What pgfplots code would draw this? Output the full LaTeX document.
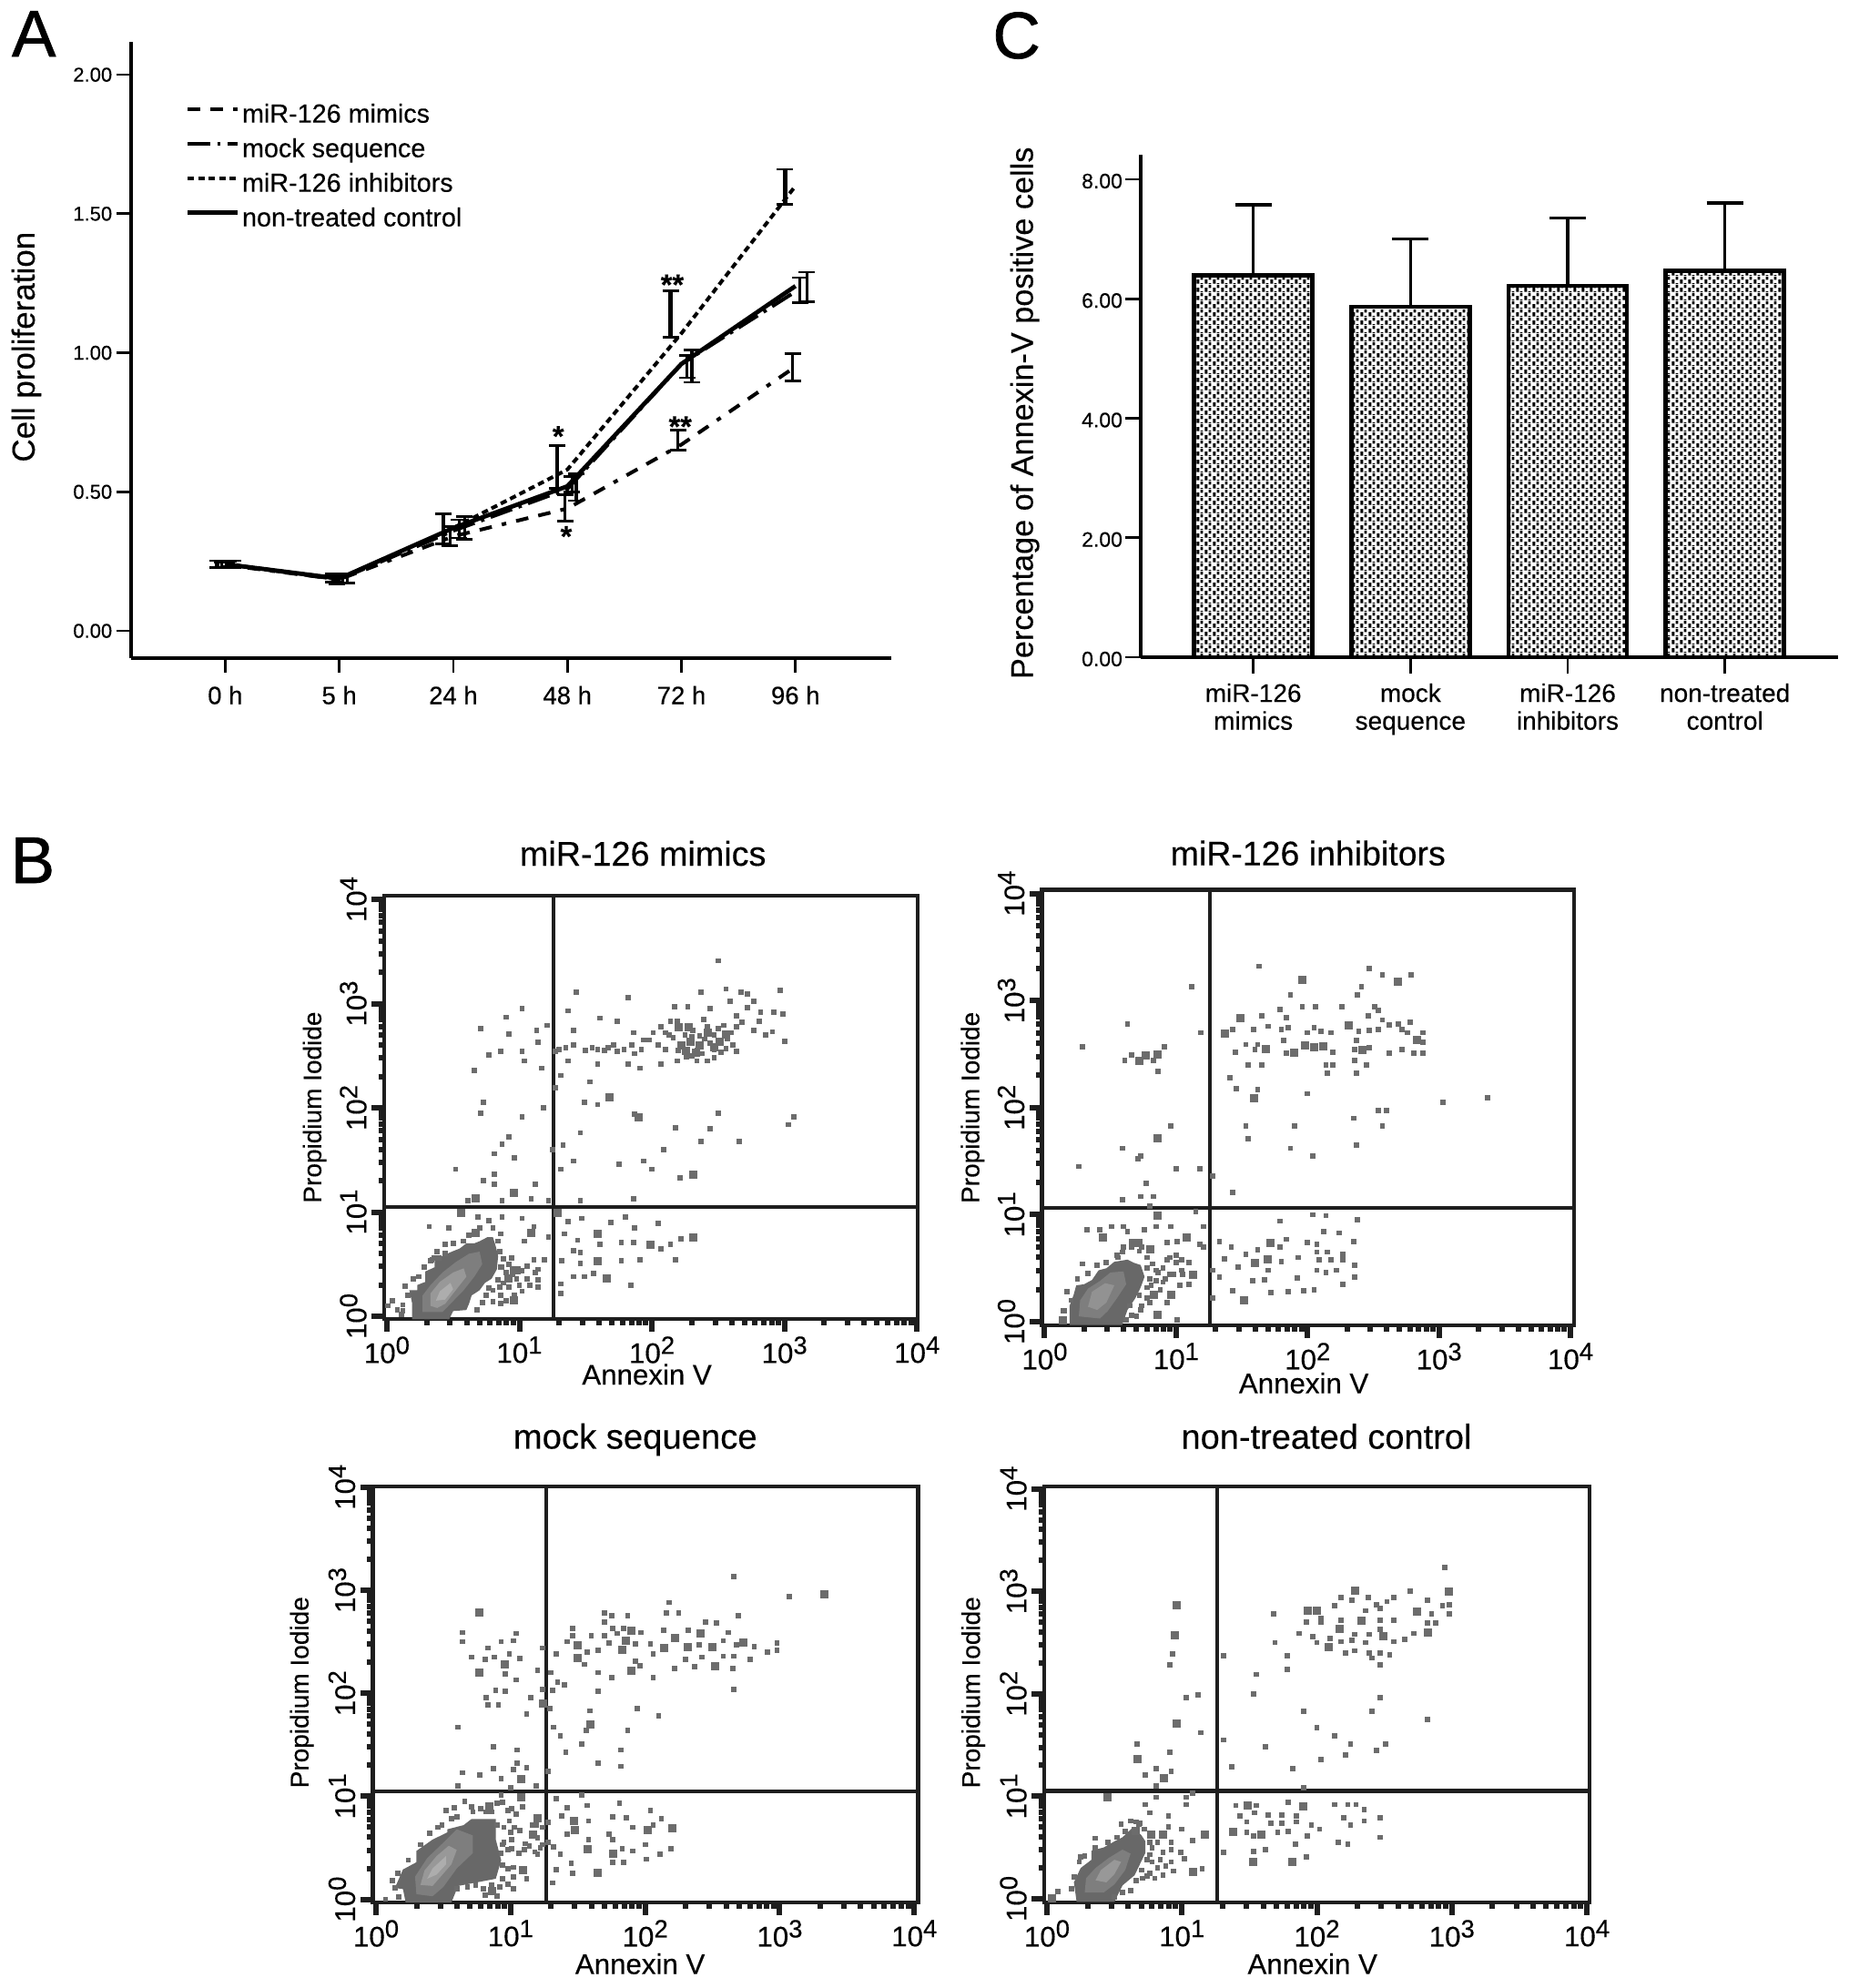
\documentclass[border=0pt]{standalone}
\usepackage{fontspec}
\setmainfont{Liberation Sans}[FakeBold=0.25]
\newfontfamily\hv{Liberation Sans}[FakeBold=1]
\usepackage{pgfplots}
\usepackage{pgfplotstable}
\usetikzlibrary{patterns}
\pgfplotsset{compat=1.18}

\definecolor{fr}{HTML}{1E1E1E}
\definecolor{dots}{HTML}{6C6C6C}
\definecolor{core}{HTML}{686868}
\definecolor{coreb}{HTML}{7E7E7E}
\definecolor{corec}{HTML}{989898}
\definecolor{cored}{HTML}{ADADAD}

\pgfdeclarepatternformonly{stip}{\pgfpointorigin}{\pgfqpoint{3.6pt}{3.6pt}}{\pgfqpoint{3.6pt}{3.6pt}}{
  \pgfpathrectangle{\pgfqpoint{0.2pt}{0.2pt}}{\pgfqpoint{1.25pt}{2pt}}
  \pgfpathrectangle{\pgfqpoint{2pt}{2pt}}{\pgfqpoint{1.25pt}{1.6pt}}
  \pgfpathrectangle{\pgfqpoint{2pt}{0pt}}{\pgfqpoint{1.25pt}{0.4pt}}
  \pgfusepath{fill}}

% 1 px of the figure = 0.4pt
\newcommand{\tp}[1]{10\raisebox{4pt}{\fontsize{11}{11}\selectfont #1}}
\newcommand{\fs}[1]{\fontsize{#1}{#1}\selectfont}

\pgfplotsset{
  facs/.style={
    scale only axis, anchor=south west,
    axis line style={line width=1.8pt, color=fr},
    tick align=outside, xtick pos=bottom, ytick pos=left,
    xtick={1,10,100,1000,10000}, ytick={1,10,100,1000,10000},
    minor xtick={2,3,...,9,20,30,...,90,200,300,...,900,2000,3000,...,9000},
    minor ytick={2,3,...,9,20,30,...,90,200,300,...,900,2000,3000,...,9000},
    xticklabels={\tp0,\tp1,\tp2,\tp3,\tp4},
    yticklabels={\tp0,\tp1,\tp2,\tp3,\tp4},
    major tick length=5.5pt, minor tick length=2.6pt,
    major tick style={line width=2.4pt, color=fr},
    minor tick style={line width=2.4pt, color=fr},
    xticklabel style={font=\fs{12.5}, inner sep=1pt, yshift=-1pt},
    yticklabel style={font=\fs{12.5}, rotate=90, anchor=south, inner sep=2pt},
    xlabel={Annexin V}, ylabel={Propidium Iodide},
  },
  evS/.style={color=dots, only marks, mark=square*, mark size=0.95pt, mark options={solid, line width=0pt}},
  evB/.style={color=dots, only marks, mark=square*, mark size=1.6pt, mark options={solid, line width=0pt}},
  gate/.style={line width=1.7pt, color=fr},
  barerr/.style={draw=none, mark=none, forget plot,
    error bars/.cd, y dir=both, y explicit,
    error bar style={draw=black, solid, line width=#1},
    error mark options={rotate=90, mark size=3.6pt, line width=1.1pt, draw=black, solid}},
}
\pgfplotsset{/pgfplots/table/dec/.style={x expr={10^\thisrowno{0}}, y expr={10^\thisrowno{1}}, row sep=\\}}

% flow cytometry events, exponents of (Annexin V, Propidium Iodide)
\pgfplotstableread[row sep=\\]{
2.5 3.41\\2.56 3.14\\2.67 3.11\\2.72 3.09\\2.97 3.13\\2.37 3.11\\1.82 3.06\\1.43 3.11\\1.02 2.95\\0.9 2.87\\0.71 2.76\\0.92 2.71\\1.13 2.74\\1.14 2.63\\1.21 2.79\\1.37 2.93\\1.61 2.86\\1.74 2.83\\2.17 2.97\\2.27 2.97\\2.44 2.95\\2.59 3.02\\2.77 3.02\\2.72 2.96\\2.64 2.88\\2.82 2.92\\2.81 2.83\\2.92 2.92\\2.99 2.9\\2.77 2.74\\2.86 2.7\\2.91 2.73\\3.0 2.64\\
0.77 2.51\\0.86 2.54\\1.02 2.54\\1.04 2.45\\0.66 2.36\\1.17 2.38\\1.27 2.54\\1.37 2.45\\1.41 2.6\\1.41 2.74\\1.59 2.56\\1.71 2.6\\1.79 2.56\\1.59 2.42\\1.82 2.42\\1.91 2.38\\1.86 2.72\\1.94 2.65\\1.92 2.56\\2.01 2.72\\2.07 2.78\\2.07 2.42\\2.14 2.83\\2.19 2.83\\
2.26 2.49\\2.34 2.45\\2.42 2.45\\2.42 2.78\\2.54 2.79\\2.61 2.6\\2.64 2.54\\2.47 2.56\\2.52 2.53\\2.16 2.67\\2.19 2.45\\2.31 2.74\\2.39 2.85\\2.47 2.7\\
2.1 2.72\\2.13 2.7\\2.25 2.7\\2.3 2.68\\2.36 2.69\\2.4 2.66\\2.44 2.62\\2.5 2.76\\2.57 2.66\\2.6 2.72\\2.64 2.78\\2.68 2.82\\2.56 2.57\\2.34 2.55\\2.2 2.55\\2.3 2.5\\2.38 2.52\\2.47 2.48\\2.1 2.56\\2.05 2.6\\1.98 2.65\\1.5 2.55\\1.55 2.58\\1.64 2.55\\1.67 2.58\\1.74 2.54\\1.85 2.6\\1.87 2.52\\1.3 2.56\\1.35 2.58\\
1.27 2.19\\1.31 2.31\\1.53 2.25\\1.49 2.05\\1.59 2.03\\1.18 2.0\\0.73 2.05\\0.71 1.95\\1.02 1.91\\1.87 1.94\\2.5 1.95\\3.07 1.91\\3.03 1.84\\2.18 1.81\\2.44 1.8\\1.46 1.76\\0.92 1.72\\0.87 1.65\\1.25 1.6\\1.33 1.64\\0.81 1.56\\0.96 1.52\\2.37 1.68\\2.66 1.68\\2.09 1.6\\1.41 1.49\\1.75 1.46\\1.94 1.49\\2.0 1.41\\1.31 1.41\\0.81 1.36\\0.52 1.41\\2.21 1.33\\0.73 1.3\\0.81 1.27\\1.12 1.27\\0.87 1.11\\0.61 1.11\\1.09 1.13\\1.46 1.11\\1.86 1.13\\1.22 1.11\\
1.37 0.91\\1.47 0.94\\1.69 0.9\\1.8 0.95\\2.05 0.89\\1.87 0.85\\1.34 0.79\\1.44 0.73\\1.61 0.69\\1.77 0.71\\1.86 0.71\\2.07 0.65\\2.14 0.69\\2.22 0.74\\1.46 0.61\\1.41 0.63\\1.32 0.53\\1.46 0.51\\1.77 0.53\\1.91 0.54\\2.18 0.54\\1.41 0.38\\1.49 0.38\\1.31 0.31\\1.31 0.22\\1.84 0.3\\1.56 0.41\\
0.69 0.95\\0.77 0.92\\0.87 0.95\\0.32 0.86\\0.47 0.85\\1.02 0.94\\1.11 0.86\\0.86 0.79\\0.44 0.69\\1.04 0.72\\1.22 0.76\\0.94 0.56\\1.11 0.54\\1.19 0.54\\1.14 0.45\\0.87 0.47\\1.06 0.36\\1.14 0.28\\1.02 0.24\\0.86 0.2\\1.14 0.35\\0.84 0.35\\0.77 0.27\\0.04 0.15\\0.01 0.1\\0.12 0.11\\0.11 0.02\\0.14 0.29\\0.34 0.54\\0.39 0.56\\
0.85 0.62\\0.88 0.55\\0.86 0.47\\0.92 0.5\\0.9 0.42\\0.95 0.4\\0.88 0.32\\0.92 0.28\\0.98 0.36\\1.02 0.44\\1.06 0.48\\0.85 0.28\\0.8 0.25\\0.75 0.2\\0.8 0.14\\0.86 0.12\\0.72 0.13\\0.68 0.06\\0.9 0.15\\0.96 0.2\\1.0 0.3\\1.08 0.3\\1.12 0.42\\0.84 0.72\\0.8 0.85\\0.7 0.85\\0.62 0.78\\0.58 0.72\\0.5 0.7\\0.44 0.6\\0.38 0.62\\0.33 0.53\\0.36 0.56\\0.28 0.47\\0.24 0.38\\0.2 0.36\\0.16 0.2\\0.12 0.05\\0.08 0.06\\
}\mimicsS
\pgfplotstableread[row sep=\\]{
2.22 2.6\\2.29 2.63\\2.36 2.6\\2.51 2.63\\2.47 2.58\\2.26 2.55\\2.33 2.53\\2.56 2.7\\2.42 2.72\\2.2 2.77\\2.28 2.77\\
1.68 2.1\\1.9 1.91\\2.31 1.36\\0.96 1.18\\0.67 1.13\\
1.29 0.99\\1.59 0.79\\1.99 0.69\\2.31 0.76\\1.59 0.53\\1.66 0.36\\
0.56 0.99\\0.67 0.8\\1.09 0.8\\0.96 0.44\\0.96 0.15\\0.98 0.44\\0.92 0.36\\
}\mimicsB
\pgfplotstableread[row sep=\\]{
1.63 3.32\\2.47 3.3\\2.57 3.24\\2.79 3.24\\1.12 3.13\\2.41 3.13\\2.38 3.05\\1.87 3.05\\1.96 2.94\\2.06 2.94\\2.26 2.94\\1.79 2.92\\2.51 2.94\\2.54 2.91\\1.65 2.86\\2.46 2.86\\1.84 2.84\\0.63 2.78\\0.29 2.57\\1.19 2.7\\1.43 2.73\\1.59 2.73\\1.7 2.76\\1.85 2.75\\1.8 2.73\\2.0 2.7\\2.05 2.75\\2.1 2.71\\2.18 2.7\\2.39 2.71\\2.47 2.72\\2.54 2.73\\2.57 2.82\\2.62 2.77\\2.69 2.78\\2.78 2.8\\2.72 2.73\\2.88 2.7\\2.88 2.61\\2.81 2.51\\2.88 2.51\\2.72 2.54\\2.62 2.51\\2.76 2.7\\2.36 2.54\\2.47 2.56\\2.36 2.44\\2.45 2.4\\2.37 2.32\\2.37 2.63\\2.15 2.32\\2.14 2.4\\2.19 2.4\\2.19 2.52\\1.84 2.51\\1.82 2.63\\1.6 2.54\\1.53 2.59\\1.45 2.52\\1.62 2.59\\1.55 2.4\\1.65 2.4\\1.41 2.28\\1.46 2.18\\1.62 2.17\\2.0 2.13\\3.03 2.05\\3.37 2.09\\2.54 1.97\\2.6 1.97\\2.35 1.9\\2.57 1.83\\1.53 1.83\\1.9 1.83\\1.55 1.71\\2.37 1.65\\1.87 1.62\\2.04 1.55\\0.96 1.83\\0.59 1.62\\0.73 1.55\\0.71 1.52\\0.26 1.45\\1.0 1.43\\1.18 1.43\\1.28 1.36\\1.43 1.21\\0.77 1.29\\0.73 1.17\\0.83 1.17\\0.59 1.14\\0.8 1.08\\
0.61 2.44\\0.66 2.49\\0.83 2.44\\0.91 2.57\\0.86 2.34\\
2.04 1.0\\2.14 0.99\\2.38 0.95\\1.79 0.94\\2.12 0.84\\2.24 0.83\\2.35 0.75\\1.84 0.77\\1.79 0.7\\1.33 0.75\\1.42 0.7\\2.0 0.74\\2.07 0.72\\1.53 0.63\\1.62 0.67\\1.8 0.56\\1.93 0.6\\1.37 0.59\\1.47 0.51\\1.7 0.48\\2.15 0.65\\2.07 0.65\\2.09 0.58\\2.18 0.58\\2.27 0.63\\2.27 0.58\\2.36 0.53\\2.36 0.42\\2.07 0.48\\2.14 0.46\\2.22 0.48\\1.28 0.48\\1.33 0.42\\1.58 0.38\\1.67 0.39\\1.92 0.41\\2.27 0.35\\1.43 0.29\\1.72 0.27\\1.85 0.28\\1.97 0.29\\2.05 0.3\\1.28 0.22\\
1.15 1.03\\0.32 0.86\\0.42 0.86\\0.51 0.89\\0.6 0.89\\0.63 0.84\\0.76 0.86\\0.85 0.89\\0.96 0.89\\1.21 0.89\\1.01 0.75\\0.93 0.74\\1.18 0.72\\1.21 0.7\\0.66 0.7\\0.59 0.65\\0.56 0.6\\0.29 0.54\\0.93 0.58\\1.0 0.55\\1.1 0.55\\1.05 0.44\\0.95 0.44\\0.9 0.37\\1.03 0.34\\1.1 0.35\\0.93 0.18\\1.01 0.02\\0.73 0.11\\0.8 0.18\\0.85 0.48\\0.81 0.34\\0.14 0.1\\
0.2 0.2\\0.17 0.28\\0.15 0.1\\0.25 0.4\\0.33 0.45\\0.4 0.53\\0.47 0.55\\0.55 0.62\\0.6 0.7\\0.66 0.75\\0.72 0.66\\0.78 0.6\\0.74 0.7\\0.78 0.5\\0.82 0.54\\0.86 0.46\\0.9 0.5\\0.8 0.4\\0.85 0.38\\0.78 0.32\\0.72 0.25\\0.78 0.22\\0.65 0.15\\0.66 0.06\\0.7 0.05\\0.74 0.15\\0.88 0.3\\0.92 0.4\\0.98 0.44\\1.04 0.48\\0.95 0.6\\1.0 0.62\\1.04 0.58\\0.62 0.02\\
}\inhS
\pgfplotstableread[row sep=\\]{
2.69 3.18\\1.96 3.19\\1.49 2.84\\1.37 2.69\\2.31 2.77\\2.83 2.63\\2.42 2.54\\2.12 2.57\\2.05 2.56\\1.98 2.58\\1.9 2.51\\1.68 2.55\\1.59 2.09\\0.86 1.71\\
0.72 2.44\\0.77 2.49\\0.86 2.5\\
1.72 0.74\\1.7 0.58\\1.6 0.55\\1.52 0.2\\
0.86 0.99\\0.44 0.79\\1.08 0.79\\0.71 0.74\\0.8 0.68\\1.13 0.44\\0.96 0.25\\0.83 0.25\\0.86 0.06\\0.14 0.01\\
}\inhB
\pgfplotstableread[row sep=\\]{
2.66 3.13\\3.07 2.94\\2.18 2.88\\2.16 2.78\\2.25 2.78\\2.69 2.75\\1.7 2.78\\1.75 2.75\\1.87 2.75\\1.7 2.69\\1.46 2.63\\1.46 2.56\\1.76 2.63\\1.84 2.63\\1.6 2.56\\1.7 2.56\\1.79 2.58\\1.97 2.59\\1.93 2.48\\2.04 2.48\\0.64 2.59\\0.64 2.5\\1.04 2.58\\1.02 2.51\\0.93 2.5\\0.83 2.44\\1.24 2.44\\1.34 2.38\\1.42 2.5\\1.57 2.4\\1.65 2.42\\1.73 2.49\\1.55 2.28\\1.93 2.31\\1.96 2.27\\2.06 2.38\\2.14 2.61\\2.32 2.61\\2.45 2.69\\2.53 2.68\\2.62 2.59\\2.4 2.47\\2.58 2.51\\2.68 2.47\\2.81 2.45\\2.91 2.4\\2.98 2.42\\2.98 2.49\\2.78 2.33\\2.66 2.36\\2.58 2.36\\2.37 2.26\\2.3 2.33\\2.22 2.24\\2.42 2.35\\2.65 2.24\\2.66 2.04\\
0.71 2.35\\0.81 2.33\\0.88 2.35\\1.07 2.34\\0.99 2.38\\0.96 2.19\\1.04 2.13\\1.2 2.22\\1.3 2.2\\1.35 2.11\\1.4 2.08\\1.31 2.03\\1.24 2.04\\1.65 2.2\\1.75 2.15\\1.65 2.02\\2.06 2.15\\0.89 2.03\\0.96 2.02\\0.82 1.96\\1.15 1.96\\0.83 1.89\\0.91 1.89\\1.29 1.85\\1.94 1.85\\1.59 1.83\\2.1 1.78\\1.12 1.8\\0.61 1.67\\1.32 1.67\\1.87 1.64\\1.56 1.64\\1.37 1.59\\1.53 1.51\\0.87 1.48\\1.05 1.45\\1.82 1.45\\1.41 1.43\\1.65 1.32\\1.82 1.29\\1.05 1.32\\1.12 1.28\\0.87 1.27\\1.02 1.26\\0.64 1.23\\0.77 1.21\\1.28 1.24\\0.93 1.17\\0.61 1.1\\1.19 1.1\\1.0 1.08\\
1.34 0.98\\1.53 1.01\\1.42 0.89\\1.57 0.91\\1.81 0.93\\2.04 0.86\\1.76 0.8\\1.86 0.79\\1.38 0.81\\1.58 0.76\\2.12 0.78\\2.06 0.72\\1.91 0.7\\1.42 0.63\\1.73 0.63\\1.58 0.58\\1.76 0.58\\2.0 0.53\\2.19 0.49\\2.11 0.44\\1.32 0.51\\1.37 0.44\\1.83 0.49\\1.91 0.47\\2.01 0.39\\1.45 0.35\\1.84 0.36\\1.76 0.36\\1.46 0.25\\1.34 0.29\\1.31 0.16\\
0.52 0.86\\0.58 0.89\\0.66 0.95\\0.71 0.9\\0.93 1.01\\0.94 0.94\\1.09 0.9\\1.01 0.88\\0.99 0.76\\1.16 0.72\\1.07 0.67\\1.01 0.58\\1.11 0.54\\1.24 0.53\\1.01 0.49\\0.94 0.53\\1.2 0.44\\1.02 0.31\\1.12 0.2\\0.94 0.2\\1.02 0.1\\0.81 0.04\\0.49 0.72\\0.14 0.11\\0.07 0.0\\1.19 0.72\\1.02 0.22\\
0.9 0.72\\0.95 0.7\\0.95 0.55\\1.0 0.65\\1.03 0.7\\0.93 0.45\\0.98 0.48\\1.06 0.45\\1.1 0.48\\1.14 0.52\\1.2 0.6\\1.24 0.7\\1.28 0.75\\1.28 0.55\\1.22 0.5\\1.18 0.46\\0.94 0.33\\0.98 0.3\\0.92 0.12\\0.98 0.15\\0.6 0.1\\0.68 0.12\\0.74 0.14\\0.8 0.1\\0.9 0.03\\0.86 0.14\\0.56 0.78\\0.6 0.8\\0.72 0.85\\0.78 0.88\\0.82 0.85\\0.86 0.85\\0.9 0.93\\0.98 0.86\\1.04 0.83\\0.46 0.7\\0.4 0.64\\0.33 0.53\\0.24 0.38\\0.16 0.25\\0.12 0.18\\0.17 0.02\\
}\mockS
\pgfplotstableread[row sep=\\]{
3.33 2.96\\0.77 2.78\\1.9 2.61\\1.86 2.51\\1.5 2.47\\1.83 2.42\\1.5 2.34\\1.9 2.22\\2.22 2.54\\2.14 2.44\\2.41 2.58\\2.5 2.45\\2.32 2.45\\2.73 2.49\\2.52 2.26\\
0.96 2.28\\0.77 2.2\\1.24 1.9\\1.59 1.7\\1.08 1.17\\
1.47 0.76\\2.2 0.69\\2.02 0.67\\1.48 0.67\\1.57 0.49\\1.76 0.44\\1.65 0.26\\
0.84 0.9\\1.08 0.99\\1.2 0.79\\1.17 0.63\\1.09 0.28\\0.86 0.08\\
}\mockB
\pgfplotstableread[row sep=\\]{
2.95 3.23\\2.69 3.0\\2.18 2.94\\2.38 2.94\\2.57 2.94\\2.82 2.91\\2.26 2.91\\2.13 2.86\\2.44 2.87\\2.52 2.9\\2.98 2.87\\2.93 2.86\\2.36 2.81\\2.47 2.83\\2.85 2.78\\1.68 2.78\\2.98 2.78\\2.03 2.74\\2.18 2.72\\2.47 2.72\\2.57 2.72\\1.92 2.7\\2.03 2.7\\2.82 2.69\\2.88 2.69\\2.47 2.63\\1.87 2.59\\2.72 2.59\\1.97 2.56\\2.28 2.58\\2.39 2.58\\2.65 2.53\\2.1 2.54\\2.18 2.51\\2.26 2.52\\2.0 2.5\\1.69 2.5\\2.36 2.5\\2.57 2.51\\2.21 2.4\\2.28 2.42\\2.39 2.4\\2.47 2.4\\2.54 2.38\\2.41 2.35\\2.47 2.28\\1.78 2.37\\1.78 2.24\\1.31 2.37\\1.55 2.19\\2.47 1.96\\1.53 2.0\\2.41 1.83\\1.9 1.83\\2.82 1.75\\2.0 1.67\\2.13 1.59\\1.62 1.48\\2.25 1.51\\2.51 1.51\\2.44 1.45\\2.21 1.4\\2.03 1.36\\1.31 1.55\\1.37 1.29\\1.82 1.27\\1.9 1.08\\
0.93 2.39\\0.91 2.28\\1.12 1.99\\1.03 1.96\\1.14 1.62\\0.67 1.51\\0.91 1.43\\0.81 1.27\\0.92 1.24\\0.73 1.21\\0.81 1.1\\0.81 0.99\\1.08 1.03\\1.03 0.99\\1.03 0.92\\
1.4 0.91\\1.55 0.91\\1.79 0.94\\2.13 0.92\\2.23 0.92\\2.29 0.92\\2.35 0.87\\1.43 0.81\\1.54 0.84\\1.64 0.82\\1.74 0.82\\1.85 0.81\\1.66 0.74\\1.48 0.75\\1.74 0.74\\1.85 0.75\\2.2 0.79\\2.47 0.79\\2.35 0.76\\2.25 0.72\\1.96 0.72\\2.02 0.68\\1.48 0.65\\1.71 0.65\\1.79 0.66\\1.53 0.61\\1.93 0.61\\2.47 0.6\\2.16 0.55\\2.23 0.53\\1.84 0.53\\1.62 0.48\\1.53 0.46\\1.31 0.45\\1.92 0.41\\
0.55 0.73\\0.69 0.74\\0.36 0.59\\0.76 0.84\\0.73 0.92\\0.9 0.81\\0.9 0.7\\1.0 0.68\\1.08 0.57\\0.92 0.48\\0.99 0.45\\1.02 0.39\\0.92 0.36\\0.76 0.43\\0.84 0.38\\1.15 0.29\\0.94 0.27\\0.86 0.23\\0.76 0.25\\0.71 0.2\\0.08 0.07\\0.25 0.41\\0.66 0.75\\
0.2 0.21\\0.18 0.1\\0.24 0.36\\0.28 0.42\\0.36 0.5\\0.45 0.55\\0.52 0.6\\0.58 0.66\\0.62 0.76\\0.68 0.73\\0.72 0.68\\0.76 0.55\\0.78 0.5\\0.82 0.55\\0.74 0.38\\0.78 0.36\\0.82 0.3\\0.7 0.28\\0.74 0.22\\0.8 0.2\\0.66 0.18\\0.86 0.45\\0.88 0.32\\0.92 0.55\\0.62 0.08\\0.56 0.06\\0.5 0.02\\
}\ctrlS
\pgfplotstableread[row sep=\\]{
2.28 3.01\\2.98 3.0\\1.93 2.81\\2.0 2.81\\2.74 2.8\\2.33 2.71\\2.17 2.63\\2.82 2.6\\2.49 2.56\\2.09 2.46\\
0.96 2.86\\0.95 2.57\\0.96 1.71\\0.67 1.36\\0.87 1.18\\0.45 0.99\\
1.49 0.91\\1.9 0.9\\1.38 0.65\\1.59 0.63\\1.53 0.36\\1.82 0.36\\
0.77 0.63\\0.86 0.63\\1.17 0.63\\1.08 0.26\\0.04 0.0\\0.66 0.66\\
}\ctrlB

\begin{document}
\begin{tikzpicture}
\useasboundingbox (0pt,0pt) rectangle (812.4pt,-873.6pt);

% panel letters
\node[anchor=base west, inner sep=0pt, font=\hv\fs{29}] at (5pt,-24.8pt) {A};
\node[anchor=base west, inner sep=0pt, font=\hv\fs{29}] at (436pt,-25.6pt) {C};
\node[anchor=base west, inner sep=0pt, font=\hv\fs{29}] at (4.5pt,-388pt) {B};

% A: proliferation curves
\begin{axis}[
  at={(57.6pt,-289.2pt)}, anchor=south west, scale only axis,
  width=334pt, height=270.8pt,
  axis lines=left, axis line style={-, line width=1.3pt},
  xmin=-0.825, xmax=5.84, ymin=-0.098, ymax=2.118,
  tick align=outside, major tick length=6.5pt,
  tick style={line width=1.1pt, black},
  xtick={0,1,2,3,4,5}, xticklabels={0 h,5 h,24 h,48 h,72 h,96 h},
  ytick={0,0.5,1,1.5,2},
  yticklabel style={font=\fs{8.8}, xshift=1.7pt, /pgf/number format/fixed, /pgf/number format/fixed zerofill, /pgf/number format/precision=2, /pgf/number format/assume math mode=true},
  xticklabel style={font=\fs{11}, yshift=-2.2pt},
  ylabel={Cell proliferation},
  ylabel style={at={(axis description cs:-0.127,0.505)}, anchor=base, font=\fs{14}},
  legend style={at={(axis description cs:0.071,0.903)}, anchor=north west, draw=none, fill=none,
    font=\fs{11.5}, row sep=3.2pt, inner sep=0pt,
    nodes={inner ysep=0pt, inner xsep=1pt, text height=9pt, text depth=3pt}},
  legend cell align=left,
  legend image code/.code={\draw[#1] (0pt,3pt) -- (22pt,3pt);},
]
\addplot[black, line width=1.6pt, dash pattern=on 5.5pt off 4.5pt on 5.5pt off 4.5pt on 2pt off 4.5pt] coordinates {(0,0.237) (1,0.185) (2,0.34) (3,0.44) (4,0.67) (5,0.95)};
\addlegendentry{miR-126 mimics}
\addplot[black, line width=1.6pt, dash pattern=on 10pt off 3pt on 1.5pt off 3pt] coordinates {(0,0.24) (1,0.185) (2,0.36) (3,0.51) (4,0.96) (5,1.22)};
\addlegendentry{mock sequence}
\addplot[black, line width=1.6pt, dash pattern=on 2.8pt off 1.8pt] coordinates {(0,0.24) (1,0.188) (2,0.37) (3,0.58) (4,1.07) (5,1.6)};
\addlegendentry{miR-126 inhibitors}
\addplot[black, line width=1.9pt] coordinates {(0,0.24) (1,0.188) (2,0.37) (3,0.52) (4,0.96) (5,1.24)};
\addlegendentry{non-treated control}

\addplot[barerr=1.7pt] coordinates {(-0.07,0.24)+-(0,0.012) (0.95,0.19)+-(0,0.015) (1.91,0.367)+-(0,0.053) (2.91,0.59)+-(0,0.077) (3.905,1.14)+-(0,0.083) (4.91,1.597)+-(0,0.063)};
\addplot[barerr=1.1pt] coordinates {(-0.03,0.237)+-(0,0.01) (0.98,0.185)+-(0,0.015) (1.97,0.34)+-(0,0.034) (2.98,0.442)+-(0,0.048) (3.97,0.686)+-(0,0.037) (4.975,0.947)+-(0,0.049)};
\addplot[barerr=1.1pt] coordinates {(0.03,0.24)+-(0,0.01) (1.03,0.185)+-(0,0.012) (2.05,0.367)+-(0,0.033) (3.04,0.528)+-(0,0.028) (4.05,0.95)+-(0,0.04) (5.04,1.225)+-(0,0.045)};
\addplot[barerr=1.4pt] coordinates {(0.07,0.24)+-(0,0.012) (1.07,0.188)+-(0,0.017) (2.1,0.37)+-(0,0.04) (3.08,0.517)+-(0,0.049) (4.09,0.952)+-(0,0.058) (5.1,1.237)+-(0,0.053)};

\node[font=\bfseries\fs{13}] at (axis cs:2.92,0.70) {*};
\node[font=\bfseries\fs{13}] at (axis cs:2.99,0.34) {*};
\node[font=\bfseries\fs{13}] at (axis cs:3.92,1.245) {**};
\node[font=\bfseries\fs{13}] at (axis cs:3.99,0.735) {**};
\end{axis}

% C: Annexin-V positive cells
\begin{axis}[
  at={(501.2pt,-288.8pt)}, anchor=south west, scale only axis,
  width=306.4pt, height=220.8pt,
  axis lines=left, axis line style={-, line width=1.4pt},
  xmin=-0.716, xmax=3.72, ymin=0, ymax=8.41,
  tick align=outside, major tick length=7pt,
  tick style={line width=1.1pt, black},
  xtick={0,1,2,3},
  xticklabels={{miR-126\\mimics},{mock\\sequence},{miR-126\\inhibitors},{non-treated\\control}},
  xticklabel style={align=center, font=\fontsize{11.2}{12.2}\selectfont, yshift=-1pt},
  ytick={0,2,4,6,8},
  yticklabel style={font=\fs{9.2}, xshift=2.5pt, yshift=-0.8pt, /pgf/number format/fixed, /pgf/number format/fixed zerofill, /pgf/number format/precision=2, /pgf/number format/assume math mode=true},
  ylabel={Percentage of Annexin-V positive cells},
  ylabel style={at={(axis description cs:-0.1547,0.486)}, anchor=base, font=\fs{13.7}},
]
\addplot[ybar, bar width=52pt, bar shift=0pt, draw=black, line width=1.9pt,
  pattern=stip, pattern color=black,
  error bars/.cd, y dir=plus, y explicit,
  error bar style={solid, black, line width=1.4pt},
  error mark options={rotate=90, mark size=8pt, line width=1.4pt, black}]
  coordinates {(0,6.39)+-(0,1.18) (1,5.865)+-(0,1.135) (2,6.215)+-(0,1.135) (3,6.47)+-(0,1.13)};
\end{axis}

% B: flow cytometry
\begin{axis}[xmode=log, ymode=log, facs, at={(168.8pt,-579.6pt)}, width=234.4pt, height=186pt,
  xmin=0.955, xmax=10116, ymin=0.942, ymax=10839,
  title={miR-126 mimics},
  title style={at={(axis description cs:0.485,1)}, anchor=base, yshift=7.2pt, font=\fs{15.1}},
  xlabel style={at={(axis description cs:0.4925,-0.155)}, anchor=base, font=\fs{12.5}},
  ylabel style={at={(axis description cs:-0.118,0.5)}, anchor=base, font=\fs{11.2}},
]
\addplot[evS] table[dec]{\mimicsS};
\addplot[evB] table[dec]{\mimicsB};
\addplot[fill=core, draw=none] table[dec]{0.19 -0.03\\0.19 0.13\\0.17 0.25\\0.23 0.25\\0.23 0.3\\0.29 0.33\\0.29 0.43\\0.36 0.47\\0.36 0.53\\0.42 0.58\\0.49 0.62\\0.55 0.65\\0.6 0.7\\0.66 0.7\\0.7 0.72\\0.76 0.76\\0.8 0.76\\0.82 0.68\\0.84 0.58\\0.83 0.45\\0.79 0.36\\0.74 0.32\\0.7 0.25\\0.64 0.2\\0.62 0.12\\0.6 0.06\\0.5 0.05\\0.47 -0.03\\} -- cycle;
\addplot[fill=coreb, draw=none] table[dec]{0.27 0.04\\0.27 0.2\\0.33 0.3\\0.42 0.42\\0.52 0.52\\0.62 0.6\\0.7 0.62\\0.72 0.5\\0.66 0.38\\0.58 0.25\\0.48 0.12\\0.42 0.04\\} -- cycle;
\addplot[fill=corec, draw=none] table[dec]{0.33 0.1\\0.33 0.22\\0.4 0.33\\0.5 0.42\\0.58 0.46\\0.6 0.38\\0.52 0.25\\0.44 0.12\\0.38 0.08\\} -- cycle;
\addplot[fill=cored, draw=none] table[dec]{0.37 0.15\\0.4 0.24\\0.48 0.32\\0.5 0.26\\0.44 0.16\\} -- cycle;
\addplot[gate] coordinates {(18.2,0.942) (18.2,10839)};
\addplot[gate] coordinates {(0.955,11.1) (10116,11.1)};
\end{axis}

\begin{axis}[xmode=log, ymode=log, facs, at={(457.84pt,-582.4pt)}, width=233.76pt, height=191.36pt,
  xmin=0.955, xmax=10641, ymin=0.925, ymax=10814,
  title={miR-126 inhibitors},
  title style={at={(axis description cs:0.5,1)}, anchor=base, yshift=4.8pt, font=\fs{15}},
  xlabel style={at={(axis description cs:0.492,-0.156)}, anchor=base, font=\fs{12.5}},
  ylabel style={at={(axis description cs:-0.118,0.5)}, anchor=base, font=\fs{11.2}},
]
\addplot[evS] table[dec]{\inhS};
\addplot[evB] table[dec]{\inhB};
\addplot[fill=core, draw=none] table[dec]{0.19 -0.03\\0.19 0.15\\0.22 0.25\\0.24 0.34\\0.3 0.35\\0.36 0.39\\0.41 0.48\\0.47 0.5\\0.53 0.56\\0.63 0.58\\0.68 0.55\\0.73 0.53\\0.76 0.42\\0.73 0.32\\0.69 0.22\\0.63 0.11\\0.59 -0.03\\} -- cycle;
\addplot[fill=coreb, draw=none] table[dec]{0.26 0.05\\0.27 0.2\\0.33 0.31\\0.42 0.38\\0.5 0.46\\0.6 0.47\\0.62 0.35\\0.55 0.22\\0.48 0.1\\0.42 0.03\\} -- cycle;
\addplot[fill=corec, draw=none, opacity=0.8] table[dec]{0.33 0.14\\0.36 0.28\\0.46 0.36\\0.53 0.34\\0.47 0.18\\0.4 0.11\\} -- cycle;
\addplot[gate] coordinates {(18.1,0.925) (18.1,10814)};
\addplot[gate] coordinates {(0.955,11.5) (10641,11.5)};
\end{axis}

\begin{axis}[xmode=log, ymode=log, facs, at={(163.8pt,-836pt)}, width=239.68pt, height=182.8pt,
  xmin=0.946, xmax=10715, ymin=0.933, ymax=10162,
  title={mock sequence},
  title style={at={(axis description cs:0.481,1)}, anchor=base, yshift=10.6pt, font=\fs{15.3}},
  xlabel style={at={(axis description cs:0.49,-0.172)}, anchor=base, font=\fs{12.5}},
  ylabel style={at={(axis description cs:-0.118,0.505)}, anchor=base, font=\fs{11.2}},
]
\addplot[evS] table[dec]{\mockS};
\addplot[evB] table[dec]{\mockB};
\addplot[fill=core, draw=none] table[dec]{0.22 -0.03\\0.2 0.1\\0.14 0.11\\0.2 0.29\\0.3 0.36\\0.3 0.47\\0.42 0.58\\0.53 0.65\\0.53 0.68\\0.65 0.72\\0.71 0.78\\0.89 0.78\\0.89 0.58\\0.93 0.38\\0.89 0.2\\0.81 0.18\\0.61 0.13\\0.56 -0.03\\} -- cycle;
\addplot[fill=coreb, draw=none] table[dec]{0.3 0.05\\0.29 0.22\\0.38 0.4\\0.5 0.55\\0.6 0.68\\0.72 0.62\\0.72 0.45\\0.6 0.3\\0.5 0.12\\0.42 0.03\\} -- cycle;
\addplot[fill=corec, draw=none] table[dec]{0.33 0.14\\0.36 0.28\\0.45 0.42\\0.54 0.52\\0.6 0.48\\0.56 0.34\\0.48 0.22\\0.42 0.13\\} -- cycle;
\addplot[fill=cored, draw=none] table[dec]{0.38 0.2\\0.42 0.3\\0.52 0.42\\0.52 0.34\\0.45 0.24\\} -- cycle;
\addplot[gate] coordinates {(18.3,0.933) (18.3,10162)};
\addplot[gate] coordinates {(0.946,11.2) (10715,11.2)};
\end{axis}

\begin{axis}[xmode=log, ymode=log, facs, at={(458.8pt,-836pt)}, width=239.6pt, height=182.8pt,
  xmin=0.955, xmax=10471, ymin=0.92, ymax=10544,
  title={non-treated control},
  title style={at={(axis description cs:0.5175,1)}, anchor=base, yshift=10.6pt, font=\fs{15.2}},
  xlabel style={at={(axis description cs:0.492,-0.172)}, anchor=base, font=\fs{12.5}},
  ylabel style={at={(axis description cs:-0.118,0.505)}, anchor=base, font=\fs{11.2}},
]
\addplot[evS] table[dec]{\ctrlS};
\addplot[evB] table[dec]{\ctrlB};
\addplot[fill=core, draw=none] table[dec]{0.22 -0.03\\0.2 0.16\\0.25 0.3\\0.33 0.38\\0.33 0.47\\0.42 0.5\\0.5 0.56\\0.56 0.6\\0.64 0.7\\0.7 0.62\\0.73 0.56\\0.73 0.45\\0.65 0.23\\0.56 0.13\\0.5 -0.03\\} -- cycle;
\addplot[fill=coreb, draw=none] table[dec]{0.28 0.06\\0.29 0.2\\0.36 0.3\\0.46 0.4\\0.56 0.48\\0.62 0.44\\0.58 0.28\\0.5 0.14\\0.42 0.06\\} -- cycle;
\addplot[fill=corec, draw=none] table[dec]{0.36 0.18\\0.4 0.28\\0.5 0.38\\0.55 0.36\\0.5 0.24\\0.44 0.16\\} -- cycle;
\addplot[gate] coordinates {(18.2,0.92) (18.2,10544)};
\addplot[gate] coordinates {(0.955,11.3) (10471,11.3)};
\end{axis}
\end{tikzpicture}
\end{document}
